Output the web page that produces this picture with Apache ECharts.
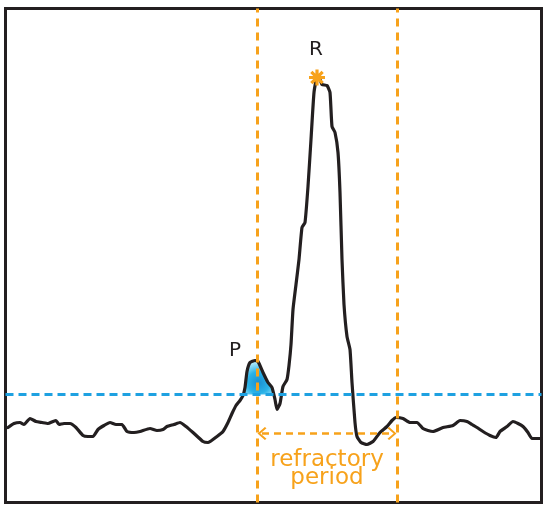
<!DOCTYPE html>
<html>
<head>
<meta charset="utf-8">
<script src="https://cdn.jsdelivr.net/npm/echarts@6/dist/echarts.min.js"></script>
<style>
  html, body { margin: 0; padding: 0; background: #fff; }
  #main { width: 550px; height: 510px; }
</style>
</head>
<body>
<div id="main"></div>
<script>
// trace of the signal (time / amplitude)
var timeData = [8, 14, 20, 24, 30, 36, 42, 48, 53, 56, 59, 64, 70, 76, 83, 88, 93, 98, 104, 110,
  116, 122, 127, 134, 140, 150, 157, 163, 167, 174, 180, 186, 193, 203, 208, 217, 223, 228, 232, 236,
  240, 243, 245, 247, 250, 255, 258, 263, 268, 272, 275, 277, 280, 283, 287, 289, 291, 293, 296, 299,
  302, 305, 308, 311, 314, 317, 320, 322, 327, 330, 332, 335, 338, 340, 342, 344, 347, 350, 352, 355,
  357, 361, 367, 373, 380, 387, 392, 396, 403, 410, 417, 423, 428, 433, 443, 453, 460, 467, 472, 477,
  483, 490, 496, 500, 507, 513, 518, 523, 528, 532, 541]
var ampData = [75, 79, 80, 78, 84, 81, 80, 79, 81, 82, 78, 79, 79, 75, 67, 66, 66, 73, 77, 80,
  78, 78, 71, 70, 71, 74, 72, 73, 76, 78, 80, 76, 70, 61, 60, 66, 71, 80, 89, 97,
  102, 107, 115, 131, 140, 142, 141, 130, 120, 115, 103, 93, 99, 116, 123, 137, 158, 193, 218, 243,
  275, 280, 316, 363, 410, 425, 423, 418, 417, 410, 376, 370, 350, 310, 243, 198, 166, 153, 120, 80,
  66, 60, 58, 61, 70, 76, 82, 85, 84, 80, 80, 74, 72, 71, 75, 77, 82, 81, 78, 75,
  71, 67, 65, 71, 76, 81, 79, 76, 70, 64, 64]

var threshold = 108          // blue dashed level
var refractory = [257, 397]  // orange dashed bounds
var arrowLevel = 69
var pWindow = [238, 276]
var rPeak = [317, 425]

var labelNames = ['R', 'P', 'refractory\nperiod']
var labelPos = [[316, 453], [235, 152], [327, 33]]

var black = '#231f20'
var orange = '#f7a21b'
var blue = '#1ea1e1'

var signal = []
for (var i = 0; i < timeData.length; i++) {
  signal.push([timeData[i], ampData[i]])
}

// part of the P wave above the threshold (with the crossing points)
var pArea = []
for (var i = 1; i < signal.length; i++) {
  var a = signal[i - 1], b = signal[i]
  if (b[0] < pWindow[0] || a[0] > pWindow[1]) continue
  if ((a[1] - threshold) * (b[1] - threshold) < 0) {
    var k = (threshold - a[1]) / (b[1] - a[1])
    pArea.push([a[0] + k * (b[0] - a[0]), threshold])
  }
  if (b[1] >= threshold) pArea.push(b)
}

var asterisk = 'path://M-10,-2L10,-2L10,2L-10,2Z' +
  'M-2,-10L2,-10L2,10L-2,10Z' +
  'M-5.66,-8.49L8.49,5.66L5.66,8.49L-8.49,-5.66Z' +
  'M-8.49,5.66L5.66,-8.49L8.49,-5.66L-5.66,8.49Z'
var chevron = 'path://M0,0L10,9L8,11L0,3.5L-8,11L-10,9Z'

var labelData = []
for (var i = 0; i < labelNames.length; i++) {
  var big = i === 2
  labelData.push({
    name: labelNames[i],
    value: labelPos[i],
    label: {
      show: true,
      position: 'inside',
      formatter: '{b}',
      color: big ? orange : black,
      fontFamily: 'DejaVu Sans',
      fontSize: big ? 23 : 20,
      lineHeight: big ? 18 : 20,
      align: 'center',
      verticalAlign: 'middle'
    }
  })
}

var myChart = echarts.init(document.getElementById('main'))
var option = {
  animation: false,
  grid: {
    left: 5.5, right: 8.5, top: 8.5, bottom: 7.5,
    show: true, borderColor: black, borderWidth: 3, backgroundColor: '#fff'
  },
  xAxis: { type: 'value', min: 5.5, max: 541.5, show: false },
  yAxis: { type: 'value', min: 0, max: 494, show: false },
  series: [
    {
      name: 'P area',
      type: 'line',
      data: pArea,
      symbol: 'none',
      z: 1,
      lineStyle: { width: 0 },
      areaStyle: {
        origin: threshold,
        opacity: 1,
        color: {
          type: 'radial', x: 0.5, y: 0.65, r: 0.65,
          colorStops: [
            { offset: 0, color: '#1a8fd2' },
            { offset: 0.55, color: '#2bb3e8' },
            { offset: 1, color: '#a8e6f8' }
          ]
        }
      }
    },
    {
      name: 'guides',
      type: 'line',
      data: [],
      z: 2,
      markLine: {
        silent: true,
        symbol: 'none',
        label: { show: false },
        data: [
          { yAxis: threshold, lineStyle: { color: blue, width: 3, type: [8, 5] } },
          { xAxis: refractory[0], lineStyle: { color: orange, width: 3, type: [8, 6] } },
          { xAxis: refractory[1], lineStyle: { color: orange, width: 3, type: [8, 6] } }
        ]
      }
    },
    {
      name: 'arrow',
      type: 'line',
      data: [],
      z: 2,
      markLine: {
        silent: true,
        symbol: [chevron, chevron],
        symbolSize: [13, 9],
        label: { show: false },
        lineStyle: { color: orange, width: 2.5, type: [7, 5] },
        itemStyle: { color: orange },
        data: [[
          { coord: [refractory[0] + 5, arrowLevel] },
          { coord: [refractory[1] - 5, arrowLevel] }
        ]]
      }
    },
    {
      name: 'signal',
      type: 'line',
      data: signal,
      symbol: 'none',
      z: 3,
      smooth: 0.15,
      lineStyle: { color: black, width: 3.2, join: 'round', cap: 'round' }
    },
    {
      name: 'R peak',
      type: 'scatter',
      data: [rPeak],
      symbol: asterisk,
      symbolSize: 16,
      z: 4,
      itemStyle: { color: orange, opacity: 1 }
    },
    {
      name: 'labels',
      type: 'scatter',
      data: labelData,
      symbolSize: 0,
      z: 5,
      itemStyle: { opacity: 1 }
    }
  ]
}
myChart.setOption(option)
</script>
</body>
</html>
